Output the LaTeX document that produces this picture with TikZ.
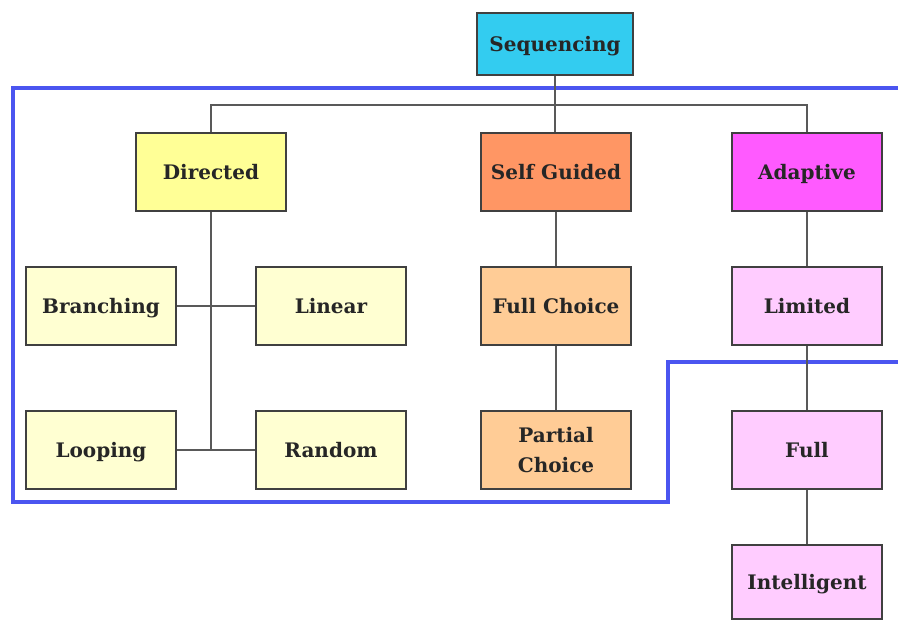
\documentclass[tikz,border=0pt]{standalone}
\usepackage{fontspec}
\setmainfont{DejaVu Serif}
\begin{document}
\begin{tikzpicture}[x=1pt,y=-1pt,
  box/.style={draw=black!75,line width=1.6pt,minimum width=150pt,minimum height=78pt,
    inner sep=2pt,align=center,font=\fontsize{20}{30}\selectfont\bfseries,text=black!85},
  onerow/.style={text height=17pt,text depth=2pt},
  link/.style={draw=black!65,line width=1.5pt}]
\definecolor{seqc}{RGB}{51,204,240}
\definecolor{dirc}{RGB}{255,255,150}
\definecolor{selfc}{RGB}{255,150,100}
\definecolor{adac}{RGB}{255,90,255}
\definecolor{lyel}{RGB}{255,255,210}
\definecolor{lorg}{RGB}{255,204,150}
\definecolor{lpnk}{RGB}{255,204,255}
\definecolor{grpblue}{RGB}{75,85,240}
\useasboundingbox (0,0) rectangle (898,622);
\fill[white] (0,0) rectangle (898,622);

% boundary around the directed and self guided branches
\draw[line width=4pt,draw=grpblue,line join=miter]
  (900,88) -- (13,88) -- (13,502) -- (668,502) -- (668,362) -- (900,362);

% boxes
\node[box,onerow,fill=seqc,minimum width=156pt,minimum height=62pt] (seq) at (555,44) {Sequencing};
\node[box,onerow,fill=dirc] (dir) at (211,172) {Directed};
\node[box,onerow,fill=selfc] (self) at (556,172) {Self Guided};
\node[box,onerow,fill=adac] (adap) at (807,172) {Adaptive};
\node[box,onerow,fill=lyel] (branch) at (101,306) {Branching};
\node[box,onerow,fill=lyel] (lin) at (331,306) {Linear};
\node[box,onerow,fill=lorg] (fullch) at (556,306) {Full Choice};
\node[box,onerow,fill=lpnk] (lim) at (807,306) {Limited};
\node[box,onerow,fill=lyel] (loop) at (101,450) {Looping};
\node[box,onerow,fill=lyel] (rand) at (331,450) {Random};
\node[box,fill=lorg] (partch) at (556,450) {Partial\\Choice};
\node[box,onerow,fill=lpnk] (full) at (807,450) {Full};
\node[box,onerow,fill=lpnk,minimum height=74pt] (intel) at (807,582) {Intelligent};

% connectors
\coordinate (bus) at (555,105);
\draw[link] (seq.south) -- (seq.south |- self.north);
\draw[link] (dir.north) |- (bus) -| (adap.north);
\draw[link] (dir.south) -- (dir.south |- loop.east);
\draw[link] (branch.east) -- (lin.west);
\draw[link] (loop.east) -- (rand.west);
\draw[link] (self.south) -- (fullch.north);
\draw[link] (fullch.south) -- (partch.north);
\draw[link] (adap.south) -- (lim.north);
\draw[link] (lim.south) -- (full.north);
\draw[link] (full.south) -- (intel.north);
\end{tikzpicture}
\end{document}
